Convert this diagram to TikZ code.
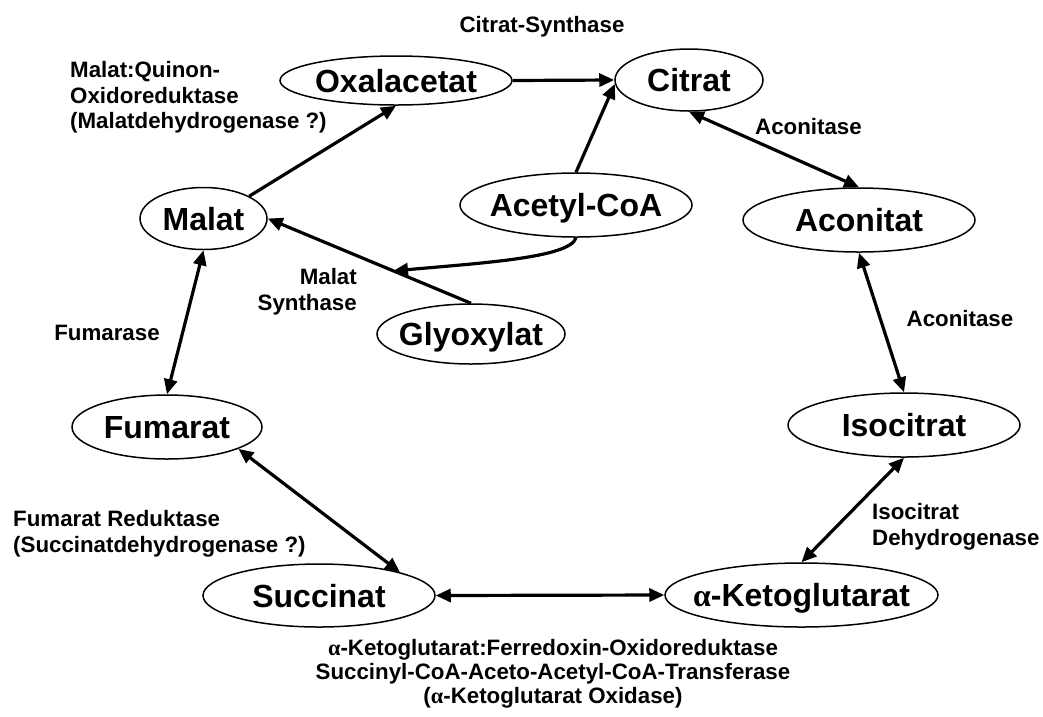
\documentclass[tikz,border=0pt]{standalone}
\usepackage{fontspec}
\setmainfont{Liberation Sans}
\newfontfamily\grk{Liberation Serif}
\usetikzlibrary{shapes.geometric,arrows.meta}
\newcommand\nbox[1]{\makebox[0pt]{#1}}
\tikzset{
  met/.style={ellipse, draw, line width=1.5pt, inner sep=0pt, text height=23pt, text depth=0pt,
    font=\fontsize{32}{36}\selectfont\bfseries},
  lab/.style={inner sep=0pt, font=\fontsize{22.3}{25.5}\selectfont\bfseries},
  arr/.style={line width=3.2pt, -{Triangle[length=15pt,width=13pt]}},
  biarr/.style={line width=3.2pt, {Triangle[length=15pt,width=13pt]}-{Triangle[length=15pt,width=13pt]}},
}
\begin{document}
\begin{tikzpicture}[x=1pt,y=-1pt]
\useasboundingbox (0,0) rectangle (1043,716);
% metabolites
\node[met, minimum width=232pt, minimum height=49pt] (oxa) at (396,80.5) {\nbox{Oxalacetat}};
\node[met, minimum width=148pt, minimum height=62pt] (cit) at (689,80) {\nbox{Citrat}};
\node[met, minimum width=232pt, minimum height=64pt] (acoa) at (576,205) {\nbox{Acetyl-CoA}};
\node[met, minimum width=232pt, minimum height=64pt] (acon) at (859,220) {\nbox{Aconitat}};
\node[met, minimum width=127pt, minimum height=62pt] (mal) at (203.5,218.5) {\nbox{Malat}};
\node[met, minimum width=188pt, minimum height=60pt] (gly) at (471,334) {\nbox{Glyoxylat}};
\node[met, minimum width=190pt, minimum height=64pt] (fum) at (167,427) {\nbox{Fumarat}};
\node[met, minimum width=232pt, minimum height=64pt] (iso) at (904,425) {\nbox{Isocitrat}};
\node[met, minimum width=232pt, minimum height=63pt] (suc) at (319,595.5) {\nbox{Succinat}};
\node[met, minimum width=273pt, minimum height=64pt] (akg) at (801.5,595) {\nbox{{\grk α}-Ketoglutarat}};
% enzyme labels
\node[lab] (cs) at (542,27) {Citrat-Synthase};
\node[lab, anchor=west, align=left] (mqo) at (70,97.5) {Malat:Quinon-\\Oxidoreduktase\\(Malatdehydrogenase ?)};
\node[lab, anchor=west] (aco1) at (755,127) {Aconitase};
\node[lab] (aco2) at (960,319) {Aconitase};
\node[lab, anchor=east, align=right] (ms) at (357,291.5) {Malat\\Synthase};
\node[lab] (fuma) at (107,333) {Fumarase};
\node[lab, anchor=west, align=left] (fr) at (13,534) {Fumarat Reduktase\\(Succinatdehydrogenase ?)};
\node[lab, anchor=west, align=left] (icd) at (872,527) {Isocitrat\\Dehydrogenase};
\node[lab, align=center, font=\fontsize{22.3}{24}\selectfont\bfseries] (kor) at (553,674)
  {{\grk α}-Ketoglutarat:Ferredoxin-Oxidoreduktase\\Succinyl-CoA-Aceto-Acetyl-CoA-Transferase\\({\grk α}-Ketoglutarat Oxidase)};
% connectors
\coordinate (msin) at (393,271);
\draw[arr] (oxa.east) -- (cit.west);
\draw[arr] (acoa.north) -- (cit.183);
\draw[biarr] (cit.south) -- (acon.north);
\draw[biarr] (acon.south) -- (iso.north);
\draw[biarr] (iso.south) -- (akg.north);
\draw[biarr] (suc.east) -- (akg.west);
\draw[biarr] (fum.-17) -- (suc.16);
\draw[biarr] (mal.south) -- (fum.north);
\draw[arr] (mal.26) -- (oxa.south);
\draw[arr] (gly.north) -- (mal.east);
\draw[arr] (acoa.south) .. controls (570,258) and (480,263) .. (msin);
\end{tikzpicture}
\end{document}
